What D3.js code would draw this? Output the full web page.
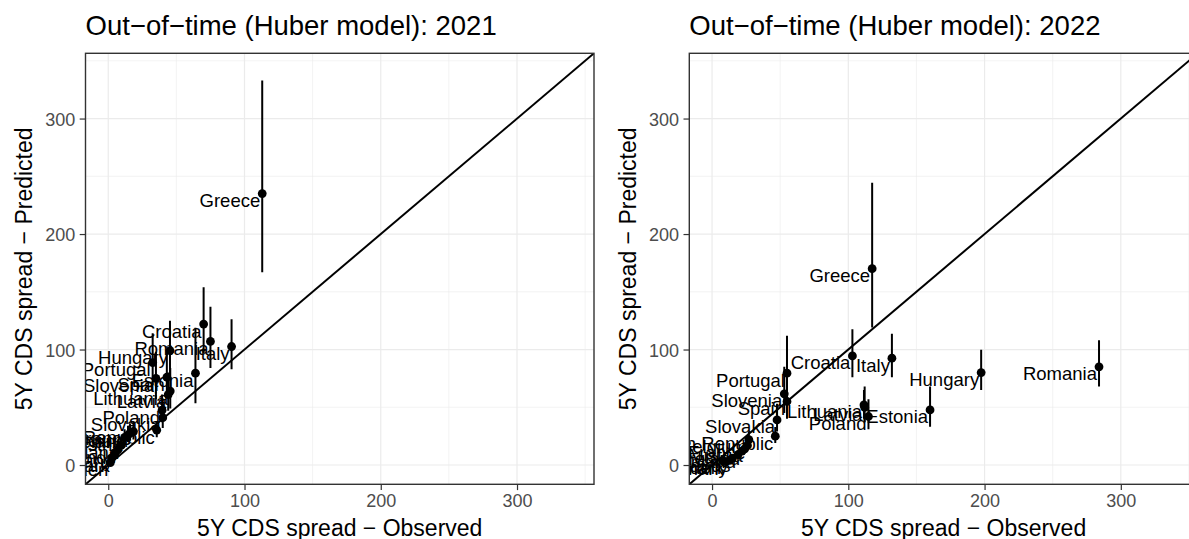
<!DOCTYPE html>
<html>
<head>
<meta charset="utf-8">
<script src="https://cdn.jsdelivr.net/npm/d3@7"></script>
<style>
  html, body { margin: 0; padding: 0; background: #fff; }
  svg { display: block; font-family: "Liberation Sans", Arial, Helvetica, sans-serif; }
</style>
</head>
<body>
<svg id="chart" width="1189" height="539"></svg>
<script>
// ---- 2021 out-of-time predictions ----
const countries2021 = ["Greece","Croatia","Romania","Italy","Hungary","Estonia","Portugal","Slovenia","Spain",
  "Lithuania","Latvia","Poland","Slovakia","Czech Republic","Belgium","France","Ireland","Austria",
  "Finland","Netherlands","Germany","Denmark","Sweden"];
const observed2021  = [113, 70, 75, 90.5, 45.3, 64, 32.6, 35, 43, 45.5, 44, 39.5, 40, 35.6, 16, 18.5, 14.5, 12, 9.5, 7, 5, 2.5, 1.5];
const predicted2021 = [235, 122, 107, 102.6, 99, 79.5, 88.7, 75, 76, 64, 61, 47.5, 41, 30.3, 27.5, 29, 26, 24, 17, 13, 10, 6, 2];
const lower2021     = [167, 97, 84, 83, 78.6, 53.5, 69, 57, 58, 49, 47, 37, 32, 24, 21, 22, 20, 18, 13, 10, 7.5, 4.5, 1.5];
const upper2021     = [333, 154, 137, 126.3, 125, 118.8, 114, 98, 99, 84, 80, 61, 53, 38, 36, 38, 34, 31, 22, 17, 13, 8, 2.6];

// ---- 2022 out-of-time predictions ----
const countries2022 = ["Greece","Croatia","Italy","Hungary","Romania","Estonia","Portugal","Slovenia","Spain",
  "Lithuania","Latvia","Poland","Slovakia","Czech Republic","Belgium","France","Austria","Ireland",
  "Finland","Netherlands","Germany","Denmark","Sweden"];
const observed2022  = [117.5, 103, 132, 197.5, 284, 160, 55, 53, 55, 111.5, 112, 114.8, 47.7, 46.4, 27, 26, 24, 22, 19, 15, 13, 10, 8];
const predicted2022 = [170, 94.5, 92.5, 80, 85, 47.7, 79.5, 61.6, 55, 52, 50, 42, 39, 25, 22, 17, 14, 12, 9, 6, 4, 3, 3.5];
const lower2022     = [119, 76, 76, 65, 68, 33.2, 56.5, 45, 40, 40, 37, 31, 29, 19, 17, 13, 11, 9, 7, 4.5, 3, 2, 2.5];
const upper2022     = [244.5, 117.6, 113.6, 99.7, 108, 67.9, 112, 85, 76, 65, 68, 57, 53, 33, 29, 22, 18, 16, 12, 8, 5.5, 4, 4.5];

// ---- axis settings ----
const axisDomain = [-16.7, 356.5];
const majorTicks = [0, 100, 200, 300];
const minorTicks = [50, 150, 250, 350];
const titles = ["Out\u2212of\u2212time (Huber model): 2021", "Out\u2212of\u2212time (Huber model): 2022"];
const xTitle = "5Y CDS spread \u2212 Observed";
const yTitle = "5Y CDS spread \u2212 Predicted";

const svg = d3.select("#chart");
const defs = svg.append("defs");

const panels = [
  { id: "p2021", left: 85.5, right: 594, title: titles[0],
    names: countries2021, obs: observed2021, pred: predicted2021, lo: lower2021, hi: upper2021 },
  { id: "p2022", left: 689.3, right: 1197.8, title: titles[1],
    names: countries2022, obs: observed2022, pred: predicted2022, lo: lower2022, hi: upper2022 }
];
const panelTop = 53.3, panelBottom = 484.3;

panels.forEach(p => {
  const x = d3.scaleLinear().domain(axisDomain).range([p.left, p.right]);
  const y = d3.scaleLinear().domain(axisDomain).range([panelBottom, panelTop]);
  const g = svg.append("g");

  defs.append("clipPath").attr("id", "clip-" + p.id)
    .append("rect").attr("x", p.left).attr("y", panelTop)
    .attr("width", p.right - p.left).attr("height", panelBottom - panelTop);

  // panel background and grid
  g.append("rect").attr("x", p.left).attr("y", panelTop)
    .attr("width", p.right - p.left).attr("height", panelBottom - panelTop).attr("fill", "#fff");

  const grid = g.append("g");
  grid.selectAll(".vminor").data(minorTicks).join("line")
    .attr("x1", d => x(d)).attr("x2", d => x(d)).attr("y1", panelTop).attr("y2", panelBottom)
    .attr("stroke", "#EBEBEB").attr("stroke-width", 0.6);
  grid.selectAll(".hminor").data(minorTicks).join("line")
    .attr("y1", d => y(d)).attr("y2", d => y(d)).attr("x1", p.left).attr("x2", p.right)
    .attr("stroke", "#EBEBEB").attr("stroke-width", 0.6);
  grid.selectAll(".vmajor").data(majorTicks).join("line")
    .attr("x1", d => x(d)).attr("x2", d => x(d)).attr("y1", panelTop).attr("y2", panelBottom)
    .attr("stroke", "#EBEBEB").attr("stroke-width", 1.2);
  grid.selectAll(".hmajor").data(majorTicks).join("line")
    .attr("y1", d => y(d)).attr("y2", d => y(d)).attr("x1", p.left).attr("x2", p.right)
    .attr("stroke", "#EBEBEB").attr("stroke-width", 1.2);

  const plot = g.append("g").attr("clip-path", "url(#clip-" + p.id + ")");

  // 45-degree reference line
  plot.append("line")
    .attr("x1", x(axisDomain[0])).attr("y1", y(axisDomain[0]))
    .attr("x2", x(axisDomain[1])).attr("y2", y(axisDomain[1]))
    .attr("stroke", "#000").attr("stroke-width", 2);

  const idx = d3.range(p.names.length);

  // prediction intervals
  plot.selectAll(".bar").data(idx).join("line")
    .attr("x1", i => x(p.obs[i])).attr("x2", i => x(p.obs[i]))
    .attr("y1", i => y(p.lo[i])).attr("y2", i => y(p.hi[i]))
    .attr("stroke", "#000").attr("stroke-width", 2);

  // points
  plot.selectAll(".pt").data(idx).join("circle")
    .attr("cx", i => x(p.obs[i])).attr("cy", i => y(p.pred[i]))
    .attr("r", 4.4).attr("fill", "#000");

  // country labels (clipped to the panel)
  plot.selectAll(".lab").data(idx).join("text")
    .attr("x", i => x(p.obs[i]) - 2).attr("y", i => y(p.pred[i]) + 13.5)
    .attr("text-anchor", "end").attr("font-size", 18.5).attr("fill", "#000")
    .text(i => p.names[i]);

  // panel border
  g.append("rect").attr("x", p.left).attr("y", panelTop)
    .attr("width", p.right - p.left).attr("height", panelBottom - panelTop)
    .attr("fill", "none").attr("stroke", "#333333").attr("stroke-width", 1.4);

  // axes
  const xAxis = g.append("g").attr("transform", `translate(0,${panelBottom})`)
    .call(d3.axisBottom(x).tickValues(majorTicks).tickSize(5.8).tickPadding(4));
  const yAxis = g.append("g").attr("transform", `translate(${p.left},0)`)
    .call(d3.axisLeft(y).tickValues(majorTicks).tickSize(5.8).tickPadding(4.5));
  [xAxis, yAxis].forEach(a => {
    a.select(".domain").remove();
    a.selectAll(".tick line").attr("stroke", "#333333").attr("stroke-width", 1.2);
    a.selectAll(".tick text").attr("fill", "#4D4D4D").attr("font-size", 18)
      .attr("font-family", "'Liberation Sans', Arial, sans-serif");
  });
  xAxis.selectAll(".tick text").attr("dy", "0.72em");
  yAxis.selectAll(".tick text").attr("dy", "0.36em");

  // titles
  svg.append("text").attr("x", p.left).attr("y", 35)
    .attr("font-size", 27.5).attr("fill", "#000").text(p.title);
  svg.append("text").attr("x", (p.left + p.right) / 2).attr("y", 535.5)
    .attr("text-anchor", "middle").attr("font-size", 23).attr("fill", "#000").text(xTitle);
  svg.append("text")
    .attr("transform", `translate(${p.left - 53.5},${(panelTop + panelBottom) / 2}) rotate(-90)`)
    .attr("text-anchor", "middle").attr("font-size", 23).attr("fill", "#000").text(yTitle);
});
</script>
</body>
</html>
